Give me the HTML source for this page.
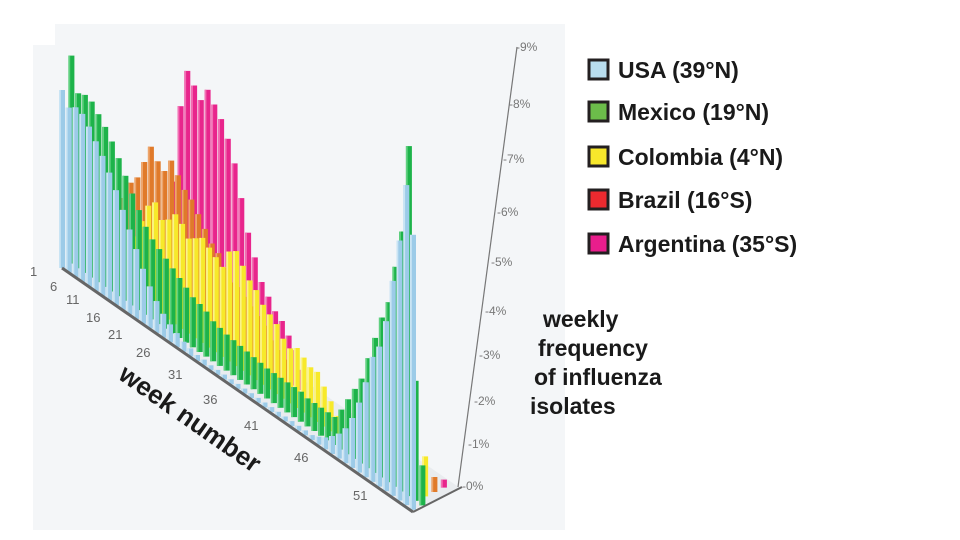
<!DOCTYPE html>
<html><head><meta charset="utf-8"><style>
html,body{margin:0;padding:0;background:#fff;}
svg{display:block;font-family:"Liberation Sans",Arial,sans-serif;}
</style></head><body>
<svg id="s" width="960" height="540" viewBox="0 0 960 540" xmlns="http://www.w3.org/2000/svg">
<polygon points="55,24 565,24 565,530 33,530 33,45 55,45" fill="#f4f6f8"/>
<polygon points="62,268 413,510 460,488 109,246" fill="#e9ecef"/>
<g id="bars"></g>
<line x1="62" y1="268" x2="413" y2="512" stroke="#666" stroke-width="3"/>
<line x1="413" y1="512" x2="462" y2="487" stroke="#666" stroke-width="2"/>
<line x1="458" y1="487" x2="517" y2="47" stroke="#777" stroke-width="1.2"/>
<g fill="#666" font-size="13">
<text x="30" y="276">1</text><text x="50" y="291">6</text><text x="66" y="304">11</text>
<text x="86" y="322">16</text><text x="108" y="339">21</text><text x="136" y="357">26</text>
<text x="168" y="379">31</text><text x="203" y="404">36</text><text x="244" y="430">41</text>
<text x="294" y="462">46</text><text x="353" y="500">51</text>
</g>
<g fill="#777" font-size="12">
<text x="516" y="51">-9%</text><text x="509" y="108">-8%</text><text x="503" y="163">-7%</text>
<text x="497" y="216">-6%</text><text x="491" y="266">-5%</text><text x="485" y="315">-4%</text>
<text x="479" y="359">-3%</text><text x="474" y="405">-2%</text><text x="468" y="448">-1%</text>
<text x="462" y="490">-0%</text>
</g>
<text x="0" y="0" font-size="26" font-weight="bold" fill="#1a1a1a" transform="translate(117,378) rotate(35)">week number</text>
<g font-size="23" font-weight="bold" fill="#1a1a1a">
<text x="543" y="327">weekly</text>
<text x="538" y="356">frequency</text>
<text x="534" y="385">of influenza</text>
<text x="530" y="414">isolates</text>
</g>
<g font-size="23" font-weight="bold" fill="#1a1a1a">
<rect x="589" y="60" width="19" height="19" fill="#b9ddee" stroke="#231f20" stroke-width="3"/>
<text x="618" y="78">USA (39°N)</text>
<rect x="589" y="102" width="19" height="19" fill="#6cbd4a" stroke="#231f20" stroke-width="3"/>
<text x="618" y="120">Mexico (19°N)</text>
<rect x="589" y="147" width="19" height="19" fill="#f7e72b" stroke="#231f20" stroke-width="3"/>
<text x="618" y="165">Colombia (4°N)</text>
<rect x="589" y="190" width="19" height="19" fill="#ec2a2f" stroke="#231f20" stroke-width="3"/>
<text x="618" y="208">Brazil (16°S)</text>
<rect x="589" y="234" width="19" height="19" fill="#e91e8c" stroke="#231f20" stroke-width="3"/>
<text x="618" y="252">Argentina (35°S)</text>
</g>
</svg>
<script>
(function(){
function arr(o){var a=[];for(var i=1;i<=53;i++)a.push(o[i]||0);return a;}
var usa=[178,165,170,168,160,150,140,128,115,100,85,70,55,42,32,24,18,14,10,8,6,6,5,5,5,5,5,5,5,5,5,5,5,5,5,5,5,5,8,12,18,25,35,50,70,95,125,140,170,215,260,320,275];
var mex=[208,175,178,176,168,160,150,138,125,112,100,88,80,75,70,65,60,55,50,48,45,40,38,36,35,34,33,32,31,30,30,30,30,30,30,28,28,28,28,28,40,55,70,85,110,135,160,180,220,260,350,120,40];
var col=arr({9:60,10:80,11:100,12:108,13:95,14:100,15:110,16:105,17:95,18:100,19:105,20:100,21:95,22:90,23:110,24:115,25:105,26:95,27:90,28:80,29:75,30:70,31:60,32:55,33:60,34:55,35:50,36:50,37:40,38:30,39:20,40:10,52:40});
var bra=arr({6:80,7:100,8:110,9:130,10:150,11:140,12:135,13:150,14:140,15:130,16:125,17:115,18:105,19:95,20:90,21:80,22:70,23:70,24:65,25:60,26:55,27:50,28:40,29:35,30:30,52:15});
var arg=arr({10:20,11:60,12:120,13:200,14:240,15:230,16:220,17:235,18:225,19:215,20:200,21:180,22:150,23:120,24:100,25:80,26:70,27:60,28:55,29:45,30:35,31:20,52:8});
var S=[[usa,'#9ccbe8','#c9e4f4'],[mex,'#1db34a','#5fd07f'],[col,'#f7e92a','#fbf38a'],[bra,'#e07a2a','#eda56c'],[arg,'#e8258c','#f270b4']];
var g=document.getElementById('bars'),h='';
for(var d=4;d>=0;d--){var s=S[d];
 for(var i=0;i<53;i++){var v=s[0][i];if(v<=0)continue;
  var bx=62+9.4*d+6.75*i, by=268-4.4*d+4.65*i;
  h+='<rect x="'+(bx-3).toFixed(1)+'" y="'+(by-v).toFixed(1)+'" width="6" height="'+v+'" fill="'+s[1]+'"/>';
  h+='<rect x="'+(bx-3).toFixed(1)+'" y="'+(by-v).toFixed(1)+'" width="1.8" height="'+v+'" fill="'+s[2]+'"/>';
 }}
g.innerHTML=h;
})();
</script>
</body></html>
